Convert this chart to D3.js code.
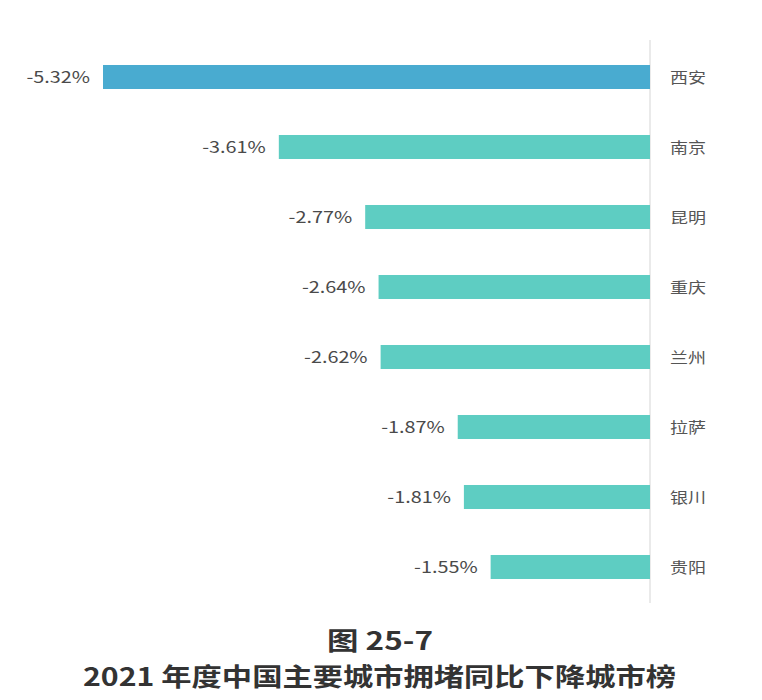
<html lang="zh">
  <head>
    <meta charset="UTF-8" />
    <title>2021 年度中国主要城市拥堵同比下降城市榜</title>
    <script src="https://d3js.org/d3.v7.min.js"></script>
  </head>
  <style>
    body {
      margin: 0;
      background: #fff;
    }
    svg {
      font-family: "Noto Sans CJK SC", "Noto Sans", sans-serif;
    }
    .value {
      font-size: 16.5px;
      fill: #4a4a4a;
    }
    .city {
      font-size: 15px;
      fill: #555;
    }
    .title {
      font-weight: bold;
      fill: #333;
    }
  </style>
  <body>
    <svg width="762" height="700"></svg>
    <script>
      var cities = ["西安", "南京", "昆明", "重庆", "兰州", "拉萨", "银川", "贵阳"];
      var changes = [-5.32, -3.61, -2.77, -2.64, -2.62, -1.87, -1.81, -1.55];
      var titleLines = ["图 25-7", "2021 年度中国主要城市拥堵同比下降城市榜"];

      var data = cities.map(function (c, i) {
        return { city: c, value: changes[i] };
      });

      // the source picture is a bit wider than tall, so stretch labels
      var stretch = 1.2;

      var svg = d3.select("svg");

      var x = d3
        .scaleLinear()
        .domain([d3.min(changes), 0])
        .range([103, 650]);

      var y = d3
        .scaleBand()
        .domain(cities)
        .range([42, 602])
        .paddingInner(0.657)
        .paddingOuter(0.3285);

      // vertical axis line at zero
      svg
        .append("line")
        .attr("x1", x(0))
        .attr("x2", x(0))
        .attr("y1", 40)
        .attr("y2", 603)
        .attr("stroke", "#dcdcdc")
        .attr("stroke-width", 1.2);

      var rows = svg
        .selectAll("g.row")
        .data(data)
        .enter()
        .append("g")
        .attr("class", "row");

      rows
        .append("rect")
        .attr("x", function (d) {
          return x(d.value);
        })
        .attr("y", function (d) {
          return y(d.city);
        })
        .attr("width", function (d) {
          return x(0) - x(d.value);
        })
        .attr("height", y.bandwidth())
        .attr("fill", function (d, i) {
          return i == 0 ? "#49abd0" : "#5ecdc2";
        });

      rows
        .append("text")
        .attr("class", "value")
        .attr("y", function (d) {
          return y(d.city) + y.bandwidth() / 2;
        })
        .attr("dy", "0.36em")
        .text(function (d) {
          return d.value.toFixed(2) + "%";
        })
        .each(function (d) {
          var w = this.getComputedTextLength() * stretch;
          d3.select(this)
            .attr("x", x(d.value) - 13 - w)
            .attr("textLength", w)
            .attr("lengthAdjust", "spacingAndGlyphs");
        });

      rows
        .append("text")
        .attr("class", "city")
        .attr("x", x(0) + 20)
        .attr("y", function (d) {
          return y(d.city) + y.bandwidth() / 2;
        })
        .attr("dy", "0.4em")
        .text(function (d) {
          return d.city;
        })
        .each(function () {
          var w = this.getComputedTextLength() * stretch;
          d3.select(this)
            .attr("textLength", w)
            .attr("lengthAdjust", "spacingAndGlyphs");
        });

      // caption below the chart
      svg
        .append("text")
        .attr("class", "title")
        .attr("x", 327)
        .attr("y", 650)
        .style("font-size", "25px")
        .attr("textLength", 106)
        .attr("lengthAdjust", "spacingAndGlyphs")
        .text(titleLines[0]);

      svg
        .append("text")
        .attr("class", "title")
        .attr("x", 83)
        .attr("y", 686)
        .style("font-size", "25px")
        .attr("textLength", 593)
        .attr("lengthAdjust", "spacingAndGlyphs")
        .text(titleLines[1]);
    </script>
  </body>
</html>
